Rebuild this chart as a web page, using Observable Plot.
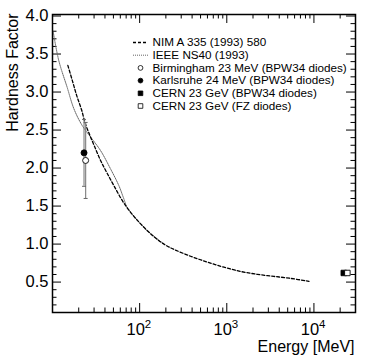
<!DOCTYPE html>
<html><head><meta charset="utf-8">
<script src="https://cdn.jsdelivr.net/npm/d3@7"></script>
<script src="https://cdn.jsdelivr.net/npm/@observablehq/plot@0.6"></script>
<style>body{margin:0;background:#fff;}</style>
</head><body><div id="chart"></div>
<script>
// ---- data ----
const nimEnergy = [15.0, 17.0, 19.0, 21.5, 23.9, 27.3, 31.0, 35.6, 42.0, 50.6, 65.9, 93.7, 145, 198, 250, 384, 597, 926, 1440, 2240, 3476, 5400, 8770];
const nimHF     = [3.35, 3.14, 2.95, 2.77, 2.58, 2.41, 2.26, 2.10, 1.94, 1.77, 1.54, 1.315, 1.10, 0.987, 0.928, 0.84, 0.763, 0.696, 0.64, 0.602, 0.575, 0.549, 0.51];
const ieeeEnergy = [10.2, 11.8, 14.75, 17.6, 21.9, 27.3, 35.6, 46.3, 57.7, 65.9, 72.1, 122, 190];
const ieeeHF     = [3.79, 3.415, 3.06, 2.78, 2.56, 2.41, 2.23, 1.99, 1.77, 1.595, 1.48, 1.18, 1.00];

const pointLabels = ["Birmingham 23 MeV (BPW34 diodes)", "Karlsruhe 24 MeV (BPW34 diodes)", "CERN 23 GeV (BPW34 diodes)", "CERN 23 GeV (FZ diodes)"];
const pointEnergy = [24, 23, 22000, 24200];
const pointHF     = [2.1, 2.2, 0.62, 0.62];
const pointErrLow  = [1.6, 1.76, null, null];
const pointErrHigh = [2.6, 2.64, null, null];
const pointSymbol = ["circle", "circle", "square", "square"];
const pointFilled = [false, true, true, false];

const lineLabels = ["NIM A 335 (1993) 580", "IEEE NS40 (1993)"];

const yMajorTicks = [0.5, 1.0, 1.5, 2.0, 2.5, 3.0, 3.5, 4.0];
const yMinorTicks = [0.2,0.3,0.4,0.6,0.7,0.8,0.9,1.1,1.2,1.3,1.4,1.6,1.7,1.8,1.9,2.1,2.2,2.3,2.4,2.6,2.7,2.8,2.9,3.1,3.2,3.3,3.4,3.6,3.7,3.8,3.9];
const xMajorTicks = [100, 1000, 10000];
const xTickExponents = ["2", "3", "4"];
const xMinorTicks = [20,30,40,50,60,70,80,90,200,300,400,500,600,700,800,900,2000,3000,4000,5000,6000,7000,8000,9000,20000];

// ---- layout ----
const W = 374, H = 359, ML = 52, MR = 19, MT = 14, MB = 47;
const PW = W - ML - MR, PH = H - MT - MB;
const FONT = "'Liberation Sans', Arial, Helvetica, sans-serif";
const MAJ = 9, MIN = 4.5;

const nim = nimEnergy.map((e, i) => ({e, hf: nimHF[i]}));
const ieee = ieeeEnergy.map((e, i) => ({e, hf: ieeeHF[i]}));
const pts = pointLabels.map((label, i) => ({label, e: pointEnergy[i], hf: pointHF[i], lo: pointErrLow[i], hi: pointErrHigh[i], sym: pointSymbol[i], filled: pointFilled[i]}));
const errPts = pts.filter(d => d.lo != null);

const capSymbol = {draw(ctx) { ctx.moveTo(-2, 0); ctx.lineTo(2, 0); }};
const legendLineSym = {draw(ctx) { ctx.moveTo(-7.5, 0); ctx.lineTo(7.5, 0); }};

const LFS = 11.7;
const legendMarks = [];
const LX = 88, LT = 100, LY0 = 28, LDY = 12.7;
lineLabels.forEach((lab, i) => {
  legendMarks.push(Plot.dot([lab], {frameAnchor: "top-left", dx: LX, dy: LY0 + LDY * i, symbol: legendLineSym, r: 3, fill: "none",
    stroke: i === 0 ? "black" : "#666", strokeWidth: i === 0 ? 1.3 : 1, strokeDasharray: i === 0 ? "3,2" : "1,1"}));
  legendMarks.push(Plot.text([lab], {frameAnchor: "top-left", dx: LT, dy: LY0 + LDY * i, text: d => d, textAnchor: "start", lineAnchor: "middle", fontSize: LFS, fill: "black"}));
});
pts.forEach((p, j) => {
  const i = j + 2;
  legendMarks.push(Plot.dot([p], {frameAnchor: "top-left", dx: LX, dy: LY0 + LDY * i, symbol: p.sym, r: p.sym === "square" ? 2.6 : 2.4,
    fill: p.filled ? "black" : "white", stroke: "black", strokeWidth: 0.8}));
  legendMarks.push(Plot.text([p.label], {frameAnchor: "top-left", dx: LT, dy: LY0 + LDY * i, text: d => d, textAnchor: "start", lineAnchor: "middle", fontSize: LFS, fill: "black"}));
});

const chart = Plot.plot({
  width: W, height: H,
  marginLeft: ML, marginRight: MR, marginTop: MT, marginBottom: MB,
  style: {fontFamily: FONT, background: "white", color: "black"},
  x: {type: "log", domain: [10, 30000], axis: null},
  y: {domain: [0.1, 4.02], axis: null},
  marks: [
    // ticks (inside, all four sides)
    Plot.tickY(yMajorTicks, {y: d => d, insetRight: PW - MAJ, stroke: "black"}),
    Plot.tickY(yMajorTicks, {y: d => d, insetLeft: PW - MAJ, stroke: "black"}),
    Plot.tickY(yMinorTicks, {y: d => d, insetRight: PW - MIN, stroke: "black"}),
    Plot.tickY(yMinorTicks, {y: d => d, insetLeft: PW - MIN, stroke: "black"}),
    Plot.tickX(xMajorTicks, {x: d => d, insetTop: PH - MAJ, stroke: "black"}),
    Plot.tickX(xMajorTicks, {x: d => d, insetBottom: PH - MAJ, stroke: "black"}),
    Plot.tickX(xMinorTicks, {x: d => d, insetTop: PH - MIN, stroke: "black"}),
    Plot.tickX(xMinorTicks, {x: d => d, insetBottom: PH - MIN, stroke: "black"}),
    // tick labels
    Plot.text(yMajorTicks, {y: d => d, frameAnchor: "left", dx: -4, text: d => d.toFixed(1), textAnchor: "end", lineAnchor: "middle", fontSize: 16.5, fill: "black"}),
    Plot.text(xMajorTicks, {x: d => d, frameAnchor: "bottom", dx: -4, dy: 22, text: () => "10", textAnchor: "middle", lineAnchor: "bottom", fontSize: 16.5, fill: "black"}),
    Plot.text(xMajorTicks, {x: d => d, frameAnchor: "bottom", dx: 5, dy: 15, text: (d, i) => xTickExponents[i], textAnchor: "start", lineAnchor: "bottom", fontSize: 11.5, fill: "black"}),
    // axis titles
    Plot.text(["Energy [MeV]"], {frameAnchor: "bottom-right", dx: -1, dy: 39, text: d => d, textAnchor: "end", lineAnchor: "bottom", fontSize: 16, fill: "black"}),
    Plot.text(["Hardness Factor"], {frameAnchor: "top-left", dx: -40, dy: -1, rotate: -90, text: d => d, textAnchor: "end", lineAnchor: "middle", fontSize: 16, fill: "black"}),
    // curves
    Plot.line(ieee, {x: "e", y: "hf", stroke: "#666", strokeWidth: 1, strokeDasharray: "1,1", curve: "catmull-rom"}),
    Plot.line(nim, {x: "e", y: "hf", stroke: "black", strokeWidth: 1.3, strokeDasharray: "3,2", curve: "catmull-rom"}),
    // error bars
    Plot.ruleX(errPts, {x: "e", y1: "lo", y2: "hi", stroke: "#888", strokeWidth: 1.2}),
    Plot.dot(errPts, {x: "e", y: "lo", symbol: capSymbol, fill: "none", stroke: "#666", strokeWidth: 1}),
    Plot.dot(errPts, {x: "e", y: "hi", symbol: capSymbol, fill: "none", stroke: "#666", strokeWidth: 1}),
    // points
    Plot.dot(pts, {x: "e", y: "hf", symbol: d => d.sym, r: d => d.sym === "square" ? 3.2 : 3, fill: d => d.filled ? "black" : "white", stroke: "black", strokeWidth: 0.9}),
    ...legendMarks,
    Plot.frame({stroke: "black", strokeWidth: 1.5})
  ]
});
document.getElementById("chart").appendChild(chart);
</script>
</body></html>
